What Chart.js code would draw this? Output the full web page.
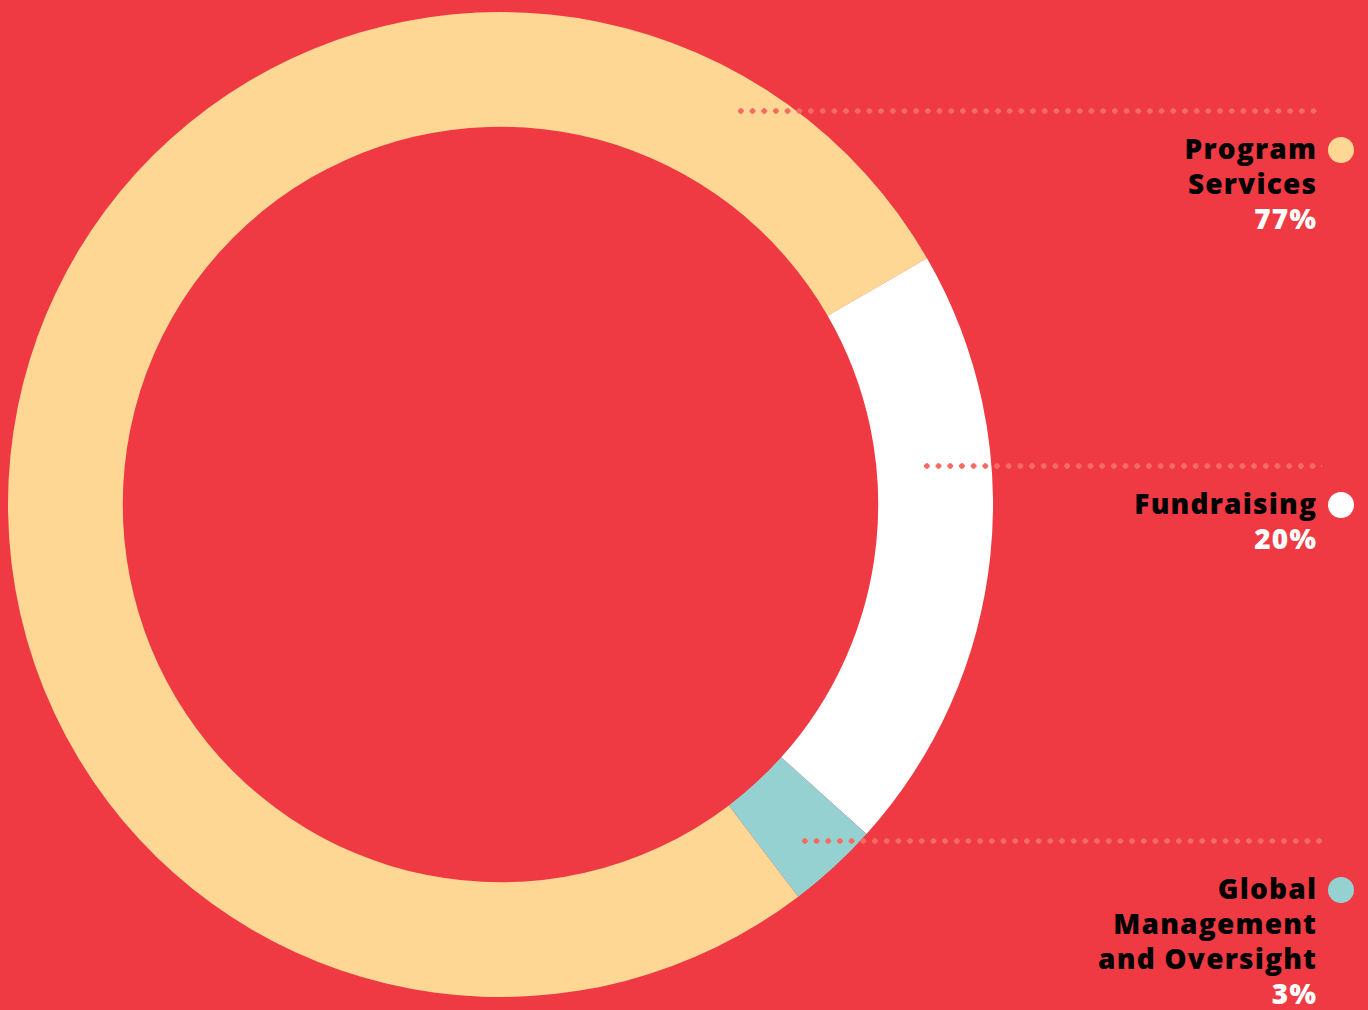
<!DOCTYPE html>
<html>
<head>
<meta charset="utf-8">
<script src="https://cdn.jsdelivr.net/npm/chart.js@4"></script>
<style>
  html, body { margin: 0; padding: 0; }
  body {
    width: 1368px; height: 1010px; overflow: hidden; position: relative;
    background: #EF3A43;
    font-family: "Open Sans", "DejaVu Sans", sans-serif;
  }
  #chartBox { position: absolute; left: 8px; top: 12px; width: 985px; height: 985px; }
  .dots {
    position: absolute; height: 8px;
    background-image: radial-gradient(circle, #F36B63 2.5px, transparent 3px);
    background-size: 11.7px 8px;
    background-repeat: repeat-x;
  }
  .label {
    position: absolute; right: 52px; text-align: right;
    font-weight: 800; font-size: 28px; line-height: 35px; color: #000;
    letter-spacing: 1.2px; margin-right: -1.2px;
  }
  .label .pct { color: #fff; }
  .marker { position: absolute; width: 26px; height: 26px; border-radius: 50%; left: 1328px; }
</style>
</head>
<body>
<div id="chartBox"><canvas id="donut"></canvas></div>

<div class="dots" style="left:735px; top:107px; width:587px;"></div>
<div class="dots" style="left:921px; top:462px; width:401px;"></div>
<div class="dots" style="left:799px; top:837px; width:523px;"></div>

<div id="legend"></div>

<script>
const categories = ['Program Services', 'Fundraising', 'Global Management and Oversight'];
const shares = [77, 20, 3];
const labelLines = [['Program', 'Services'], ['Fundraising'], ['Global', 'Management', 'and Oversight']];
const sliceColors = ['#FFD794', '#FFFFFF', '#95D1D0'];

// center of the first line of each legend block
const legendTop = [150, 505, 890];

const $ = id => document.getElementById(id);

const total = shares.reduce((a, b) => a + b, 0);
// fundraising slice begins at 60deg clockwise from the top
const startAngle = 60 - 360 * shares[0] / total;

new Chart($('donut').getContext('2d'), {
    type: 'doughnut',
    data: {
        labels: categories,
        datasets: [{
            data: shares,
            backgroundColor: sliceColors,
            borderWidth: 0,
            hoverOffset: 0
        }]
    },
    options: {
        responsive: true,
        maintainAspectRatio: false,
        animation: false,
        cutout: '76.7%',
        rotation: startAngle,
        layout: { padding: 0 },
        plugins: {
            legend: { display: false },
            tooltip: { enabled: false }
        }
    }
});

const legend = $('legend');
categories.forEach((name, i) => {
    const block = document.createElement('div');
    block.className = 'label';
    block.style.top = (legendTop[i] - 19) + 'px';
    block.innerHTML = labelLines[i].map(t => `<div>${t}</div>`).join('') +
        `<div class="pct">${shares[i]}%</div>`;
    legend.appendChild(block);

    const dot = document.createElement('div');
    dot.className = 'marker';
    dot.style.top = (legendTop[i] - 13) + 'px';
    dot.style.background = sliceColors[i];
    legend.appendChild(dot);
});
</script>
</body>
</html>
